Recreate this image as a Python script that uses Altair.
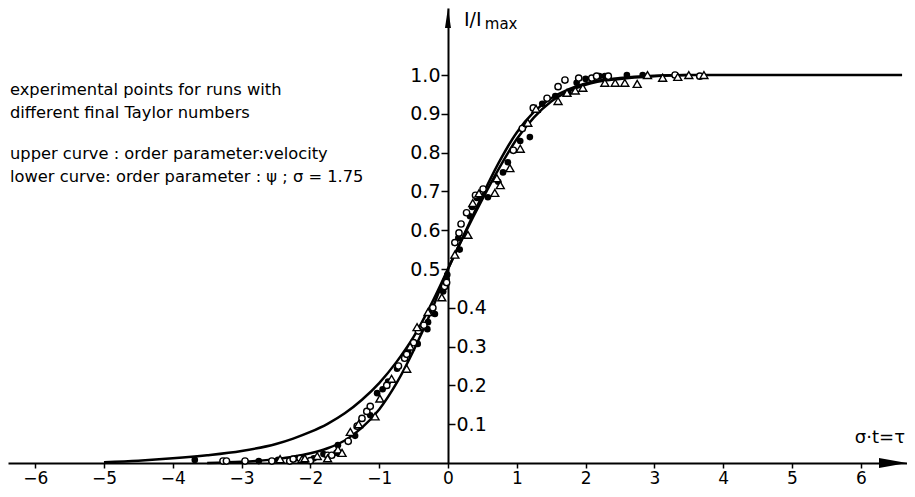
import altair as alt
import pandas as pd

# ---- data ----
upper_x = [-5.0, -4.5, -4.0, -3.5, -3.0, -2.5, -2.25, -2.0, -1.75, -1.5, -1.25, -1.0,
           -0.75, -0.5, -0.25, 0.0, 0.25, 0.5, 0.75, 1.0, 1.25, 1.5, 1.75, 2.0, 2.5,
           3.0, 3.5, 6.6]
upper_y = [0.002, 0.006, 0.012, 0.02, 0.031, 0.049, 0.063, 0.08, 0.101, 0.128, 0.163, 0.206,
           0.26, 0.325, 0.407, 0.5, 0.595, 0.69, 0.778, 0.852, 0.905, 0.94, 0.963, 0.978, 0.992,
           0.998, 1.0, 1.0]

lower_x = [-3.5, -3.0, -2.5, -2.25, -2.0, -1.75, -1.5, -1.25, -1.0, -0.75, -0.5, -0.25,
           0.0, 0.25, 0.5, 0.75, 1.0, 1.25, 1.5, 1.75, 2.0, 2.5, 3.0, 3.5]
lower_y = [0.0, 0.003, 0.01, 0.016, 0.025, 0.038, 0.058, 0.091, 0.138, 0.205, 0.29, 0.388,
           0.5, 0.593, 0.68, 0.762, 0.835, 0.891, 0.932, 0.958, 0.975, 0.99, 0.997, 1.0]

open_x = [-3.27, -3.22, -2.95, -2.56, -2.3, -2.25, -2.15, -2.0, -1.75, -1.69, -1.45, -1.32,
          -1.25, -1.18, -1.13, -0.89, -0.72, -0.63, -0.6, -0.5, -0.43, -0.35, -0.22, -0.05,
          -0.02, 0.1, 0.16, 0.19, 0.27, 0.4, 0.51, 0.95, 1.08, 1.24, 1.44, 1.6, 1.7, 1.9,
          2.09, 2.16, 2.33, 3.3, 3.66]
open_y = [0.005, 0.005, 0.005, 0.005, 0.005, 0.01, 0.012, 0.006, 0.02, 0.02, 0.056, 0.095,
          0.115, 0.133, 0.146, 0.2, 0.25, 0.27, 0.28, 0.31, 0.34, 0.355, 0.4, 0.455,
          0.465, 0.568, 0.593, 0.616, 0.645, 0.69, 0.706, 0.806, 0.862, 0.915, 0.94, 0.97,
          0.987, 0.992, 0.992, 0.997, 0.997, 1.0, 0.997]

filled_x = [-3.68, -2.75, -2.47, -2.2, -1.95, -1.81, -1.62, -1.6, -1.35, -1.13, -1.03, -0.95,
            -0.87, -0.74, -0.58, -0.44, -0.3, -0.29, -0.19, -0.07, -0.02, -0.01, 0.15, 0.17,
            0.32, 0.35, 0.42, 0.58, 0.73, 0.8, 0.87, 0.95, 1.05, 1.19, 1.37, 1.56, 1.75,
            1.87, 2.0, 2.2, 2.28, 2.6, 2.83]
filled_y = [0.008, 0.005, 0.008, 0.013, 0.012, 0.023, 0.026, 0.046, 0.07, 0.123, 0.18, 0.19,
            0.21, 0.243, 0.286, 0.307, 0.345, 0.363, 0.384, 0.442, 0.473, 0.485, 0.58, 0.55,
            0.636, 0.66, 0.683, 0.685, 0.725, 0.749, 0.775, 0.806, 0.83, 0.84, 0.926, 0.946, 0.955,
            0.98, 0.99, 0.997, 0.997, 1.0, 1.0]

tri_x = [-2.44, -2.12, -2.08, -1.9, -1.75, -1.6, -1.54, -1.42, -1.3, -1.06, -0.99, -0.82,
         -0.6, -0.55, -0.45, -0.29, -0.09, 0.1, 0.29, 0.36, 0.45, 0.68, 0.71, 0.76, 0.9,
         1.05, 1.16, 1.28, 1.6, 1.73, 1.85, 1.96, 2.28, 2.43, 2.57, 2.75, 2.9, 3.12, 3.34,
         3.5, 3.72]
tri_y = [0.01, 0.01, 0.012, 0.018, 0.012, 0.035, 0.026, 0.08, 0.1, 0.12, 0.166, 0.217,
         0.243, 0.3, 0.35, 0.389, 0.427, 0.537, 0.588, 0.67, 0.695, 0.696, 0.734, 0.716, 0.76,
         0.81, 0.877, 0.913, 0.933, 0.954, 0.96, 0.967, 0.98, 0.98, 0.98, 0.977, 1.0, 0.993, 0.995,
         1.0, 1.0]

x_ticks = [-6, -5, -4, -3, -2, -1, 0, 1, 2, 3, 4, 5, 6]
y_ticks_left = [0.5, 0.6, 0.7, 0.8, 0.9, 1.0]
y_ticks_right = [0.1, 0.2, 0.3, 0.4]

notes = ["experimental points for runs with",
         "different final Taylor numbers",
         "upper curve : order parameter:velocity",
         "lower curve: order parameter : ψ ; σ = 1.75"]
notes_x = [-6.366, -6.366, -6.366, -6.366]
notes_y = [0.962, 0.902, 0.797, 0.737]

# ---- layout constants ----
W, H = 899, 455
X_DOM = [-6.395, 6.6715]
Y_DOM = [0.0, 1.1727]
FONT = "DejaVu Sans"

xs = alt.Scale(domain=X_DOM, nice=False, zero=False)
ys = alt.Scale(domain=Y_DOM, nice=False, zero=False)

x_axis = alt.Axis(values=x_ticks, format="d", title=None, grid=False, tickSize=5,
                  labelPadding=2, labelFontSize=17, labelFont=FONT, labelColor="black",
                  domainColor="black", domainWidth=2, tickColor="black", tickWidth=1.5,
                  labelFlush=False, labelOverlap=False, offset=0)

X = alt.X("x:Q", scale=xs, axis=x_axis)

curves = pd.DataFrame({
    "x": upper_x + lower_x,
    "y": upper_y + lower_y,
    "curve": ["upper"] * len(upper_x) + ["lower"] * len(lower_x),
})

line_layer = alt.Chart(curves).mark_line(color="black", strokeWidth=2.5, interpolate="monotone").encode(
    x=X,
    y=alt.Y("y:Q", scale=ys, axis=alt.Axis(
        orient="left", offset=-440, values=y_ticks_left, format=".1f", title=None, grid=False,
        tickSize=7, labelPadding=1, labelFontSize=19, labelFont=FONT, labelColor="black",
        domainColor="black", domainWidth=2, tickColor="black", tickWidth=1.5,
        labelOverlap=False, labelFlush=False)),
    detail="curve:N",
)

pts = pd.concat([
    pd.DataFrame({"x": open_x, "y": open_y, "kind": "open"}),
    pd.DataFrame({"x": filled_x, "y": filled_y, "kind": "filled"}),
    pd.DataFrame({"x": tri_x, "y": tri_y, "kind": "tri"}),
])

Y_right = alt.Y("y:Q", scale=ys, axis=alt.Axis(
    orient="right", offset=-459, values=y_ticks_right, format=".1f", title=None, grid=False,
    tickSize=7, labelPadding=1, labelFontSize=19, labelFont=FONT, labelColor="black",
    domain=False, tickColor="black", tickWidth=1.5, labelOverlap=False, labelFlush=False))

Y_none = alt.Y("y:Q", scale=ys, axis=None)

filled_layer = alt.Chart(pts).transform_filter(alt.datum.kind == "filled").mark_circle(
    size=44, color="black", opacity=1).encode(x=X, y=Y_right)

open_layer = alt.Chart(pts).transform_filter(alt.datum.kind == "open").mark_point(
    shape="circle", size=40, filled=True, fill="white", stroke="black", strokeWidth=1.4,
    opacity=1).encode(x=X, y=Y_none)

tri_layer = alt.Chart(pts).transform_filter(alt.datum.kind == "tri").mark_point(
    shape="triangle-up", size=64, filled=True, fill="white", stroke="black", strokeWidth=1.4,
    opacity=1).encode(x=X, y=Y_none)

# arrowheads
arrows = pd.DataFrame({"x": [0.0, 6.468], "y": [1.147, 0.0],
                       "shape": ["M0,-1L0.3,1L-0.3,1Z", "M1,0L-1,-0.36L-1,0.36Z"],
                       "size": [400, 784]})
arrow_layer = alt.Chart(arrows).mark_point(filled=True, color="black", opacity=1).encode(
    x=X, y=Y_none,
    shape=alt.Shape("shape:N", scale=None),
    size=alt.Size("size:Q", scale=None),
)

notes_df = pd.DataFrame({"x": notes_x, "y": notes_y, "t": notes})
notes_layer = alt.Chart(notes_df).mark_text(
    align="left", baseline="middle", font=FONT, fontSize=16.3, color="black").encode(
    x=X, y=Y_none, text="t:N")

ylab_df = pd.DataFrame({"x": [0.233], "y": [1.143], "t": ["I/I"]})
ylab_layer = alt.Chart(ylab_df).mark_text(
    align="left", baseline="middle", font=FONT, fontSize=19, color="black").encode(
    x=X, y=Y_none, text="t:N")

xlab_df = pd.DataFrame({"x": [6.642], "y": [0.0643], "t": ["σ·t=τ"]})
xlab_layer = alt.Chart(xlab_df).mark_text(
    align="right", baseline="middle", font=FONT, fontSize=18, color="black").encode(
    x=X, y=Y_none, text="t:N")

sub_df = pd.DataFrame({"x": [0.535], "y": [1.132], "t": ["max"]})
sub_layer = alt.Chart(sub_df).mark_text(
    align="left", baseline="middle", font=FONT, fontSize=15, color="black").encode(
    x=X, y=Y_none, text="t:N")

chart = alt.layer(
    line_layer, filled_layer, open_layer, tri_layer, arrow_layer, notes_layer,
    ylab_layer, xlab_layer, sub_layer
).resolve_scale(y="independent").properties(
    width=W, height=H,
    background="white",
    autosize=alt.AutoSizeParams(type="none"),
    padding={"left": 0, "top": 0, "right": 0, "bottom": 26},
).configure_view(stroke=None)

chart.save("out.html", embed_options={"renderer": "svg", "actions": False})
